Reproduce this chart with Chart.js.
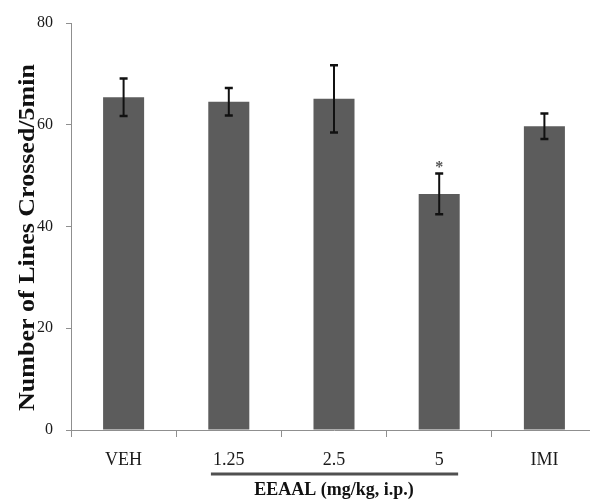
<!DOCTYPE html>
<html>
<head>
<meta charset="utf-8">
<script src="https://cdn.jsdelivr.net/npm/chart.js@4.4.1/dist/chart.umd.min.js"></script>
<style>
  html, body { margin: 0; padding: 0; background: #ffffff; overflow: hidden; }
  #wrap { width: 590px; height: 504px; overflow: hidden; }
  canvas { display: block; }
</style>
</head>
<body>
<div id="wrap"><canvas id="c" width="600" height="504"></canvas></div>
<script>
// ---- data ----
const categories = ['VEH', '1.25', '2.5', '5', 'IMI'];
const meanLines = [65.4, 64.5, 65.1, 46.4, 59.7];
const semLines = [3.7, 2.7, 6.6, 4.0, 2.5];
const significance = ['', '', '', '*', ''];
const yMin = 0, yMax = 80, yStep = 20;
const yTitle = 'Number of Lines Crossed/5min';
const xTitle = 'EEAAL (mg/kg, i.p.)';
const underlineFrom = 1, underlineTo = 3; // categories covered by the EEAAL bracket

const SERIF = "'Liberation Serif', 'Times New Roman', serif";
const AXIS_GRAY = '#8f8f8f';

const errorBarPlugin = {
  id: 'errorBars',
  afterDatasetsDraw(chart) {
    const ctx = chart.ctx;
    const meta = chart.getDatasetMeta(0);
    const y = chart.scales.y;
    ctx.save();
    ctx.strokeStyle = '#111111';
    meta.data.forEach((bar, i) => {
      const x = bar.x;
      const yTop = y.getPixelForValue(meanLines[i] + semLines[i]);
      const yBot = y.getPixelForValue(meanLines[i] - semLines[i]);
      ctx.lineWidth = 2;
      ctx.beginPath();
      ctx.moveTo(x, yTop); ctx.lineTo(x, yBot);
      ctx.stroke();
      ctx.lineWidth = 2.5;
      ctx.beginPath();
      ctx.moveTo(x - 4, yTop); ctx.lineTo(x + 4, yTop);
      ctx.moveTo(x - 4, yBot); ctx.lineTo(x + 4, yBot);
      ctx.stroke();
      if (significance[i]) {
        ctx.fillStyle = '#555555';
        ctx.font = 'bold 16px ' + SERIF;
        ctx.textAlign = 'center';
        ctx.textBaseline = 'middle';
        ctx.fillText(significance[i], x, yTop - 6);
      }
    });
    ctx.restore();
  }
};

const bracketPlugin = {
  id: 'bracket',
  afterDraw(chart) {
    const xs = chart.scales.x;
    const ctx = chart.ctx;
    const cw = xs.getPixelForValue(1) - xs.getPixelForValue(0);
    const x0 = xs.getPixelForValue(underlineFrom) - 0.17 * cw;
    const x1 = xs.getPixelForValue(underlineTo) + 0.18 * cw;
    const yy = xs.bottom - 30;
    ctx.save();
    ctx.strokeStyle = '#505050';
    ctx.lineWidth = 3;
    ctx.beginPath();
    ctx.moveTo(x0, yy); ctx.lineTo(x1, yy);
    ctx.stroke();
    ctx.restore();
  }
};

// the reference's y title is slightly elongated along its length; stretch the
// library-drawn title and nudge it down a little
function stretchYTitle(scale) {
  if (scale._titleWrapped) return;
  scale._titleWrapped = true;
  const orig = scale.drawTitle;
  scale.drawTitle = function () {
    const ctx = this.ctx;
    const mid = (this.top + this.bottom) / 2;
    ctx.save();
    ctx.translate(0, mid + 11);
    ctx.scale(1, 1.13);
    ctx.translate(0, -mid);
    orig.call(this);
    ctx.restore();
  };
}

new Chart(document.getElementById('c'), {
  type: 'bar',
  data: {
    labels: categories,
    datasets: [{
      data: meanLines,
      backgroundColor: '#5c5c5c',
      borderWidth: 0,
      categoryPercentage: 1.0,
      barPercentage: 0.39
    }]
  },
  options: {
    responsive: false,
    devicePixelRatio: 1,
    animation: false,
    layout: { padding: { top: 23, right: 3, left: 0, bottom: 0 } },
    plugins: {
      legend: { display: false },
      tooltip: { enabled: false }
    },
    scales: {
      x: {
        grid: { display: true, drawOnChartArea: false, drawTicks: true, tickLength: 7, color: AXIS_GRAY, offset: true },
        border: { display: true, color: AXIS_GRAY, width: 1 },
        ticks: { color: '#1a1a1a', font: { family: SERIF, size: 18 }, padding: 12 },
        title: { display: true, text: xTitle, color: '#111111', font: { family: SERIF, size: 18, weight: 'bold' }, padding: { top: 8, bottom: 3 } },
        afterFit(scale) { scale.height = 74; }
      },
      y: {
        min: yMin, max: yMax,
        grid: { display: true, drawOnChartArea: false, drawTicks: true, tickLength: 5, color: AXIS_GRAY },
        border: { display: true, color: AXIS_GRAY, width: 1 },
        ticks: { stepSize: yStep, color: '#1a1a1a', font: { family: SERIF, size: 16 }, padding: 13 },
        title: { display: true, text: yTitle, color: '#111111', font: { family: SERIF, size: 23, weight: 'bold' }, padding: { top: 14, bottom: 0 } },
        afterFit(scale) { scale.width = 71; stretchYTitle(scale); }
      }
    }
  },
  plugins: [errorBarPlugin, bracketPlugin]
});
</script>
</body>
</html>
